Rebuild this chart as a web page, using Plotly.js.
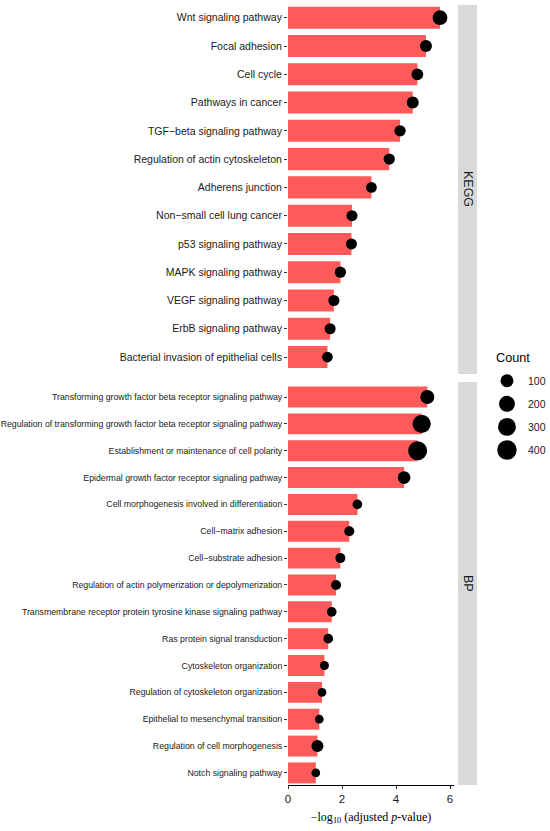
<!DOCTYPE html>
<html><head><meta charset="utf-8">
<script src="https://cdn.plot.ly/plotly-3.0.1.min.js"></script>
<style>html,body{margin:0;padding:0;background:#fff}</style>
</head><body><div id="chart" style="width:550px;height:831px"></div>
<script>
const keggTerms = ["Wnt signaling pathway","Focal adhesion","Cell cycle","Pathways in cancer","TGF\u2212beta signaling pathway","Regulation of actin cytoskeleton","Adherens junction","Non\u2212small cell lung cancer","p53 signaling pathway","MAPK signaling pathway","VEGF signaling pathway","ErbB signaling pathway","Bacterial invasion of epithelial cells"];
const keggLogP = [5.63,5.11,4.79,4.62,4.15,3.75,3.09,2.37,2.35,1.94,1.70,1.56,1.46];
const keggCount = [152,76,70,76,62,62,51,57,57,62,57,57,51];

const bpTerms = ["Transforming growth factor beta receptor signaling pathway","Regulation of transforming growth factor beta receptor signaling pathway","Establishment or maintenance of cell polarity","Epidermal growth factor receptor signaling pathway","Cell morphogenesis involved in differentiation","Cell\u2212matrix adhesion","Cell\u2212substrate adhesion","Regulation of actin polymerization or depolymerization","Transmembrane receptor protein tyrosine kinase signaling pathway","Ras protein signal transduction","Cytoskeleton organization","Regulation of cytoskeleton organization","Epithelial to mesenchymal transition","Regulation of cell morphogenesis","Notch signaling pathway"];
const bpLogP = [5.16,4.95,4.80,4.30,2.57,2.27,1.94,1.78,1.62,1.49,1.35,1.26,1.16,1.09,1.03];
const bpCount = [129,322,366,92,37,41,41,41,37,37,28,25,25,76,25];

const legendBreaks = [100,200,300,400];
const xTicks = [0,2,4,6];

const BAR = "#FF5A5A";
const SANS = "'Liberation Sans',Arial,Helvetica,sans-serif";
function dotSize(c){ return 13*Math.pow(c/100,0.292); }

const traces = [
  {type:"bar", orientation:"h", x:keggLogP, y:keggTerms, xaxis:"x", yaxis:"y",
   marker:{color:BAR,line:{width:0}}, width:0.78, showlegend:false, hoverinfo:"none"},
  {type:"scatter", mode:"markers", x:keggLogP, y:keggTerms, xaxis:"x", yaxis:"y",
   marker:{color:"#000", opacity:1, size:keggCount.map(dotSize), line:{width:0}}, cliponaxis:false, showlegend:false, hoverinfo:"none"},
  {type:"bar", orientation:"h", x:bpLogP, y:bpTerms, xaxis:"x", yaxis:"y2",
   marker:{color:BAR,line:{width:0}}, width:0.78, showlegend:false, hoverinfo:"none"},
  {type:"scatter", mode:"markers", x:bpLogP, y:bpTerms, xaxis:"x", yaxis:"y2",
   marker:{color:"#000", opacity:1, size:bpCount.map(dotSize), line:{width:0}}, cliponaxis:false, showlegend:false, hoverinfo:"none"},
  {type:"scatter", mode:"markers", x:legendBreaks.map(()=>0), y:legendBreaks.map(String), xaxis:"x3", yaxis:"y3",
   marker:{color:"#000", opacity:1, size:legendBreaks.map(dotSize), line:{width:0}}, cliponaxis:false, showlegend:false, hoverinfo:"none"}
];

const yCommon = {type:"category", anchor:"x", showgrid:false, zeroline:false, showline:false,
  ticks:"outside", ticklen:3, tickwidth:1, tickcolor:"#333", fixedrange:true};

const annotations = [
  {xref:"paper", yref:"paper", x:0.6851, y:0.7635, text:"KEGG", textangle:90, showarrow:false,
   font:{family:SANS, size:12.5, color:"#1a1a1a"}, xanchor:"center", yanchor:"middle"},
  {xref:"paper", yref:"paper", x:0.6851, y:0.2584, text:"BP", textangle:90, showarrow:false,
   font:{family:SANS, size:12.5, color:"#1a1a1a"}, xanchor:"center", yanchor:"middle"},
  {xref:"paper", yref:"paper", x:0.788, y:0.5474, text:"Count", showarrow:false,
   font:{family:SANS, size:12.7, color:"#000"}, xanchor:"left", yanchor:"middle"}
].concat(legendBreaks.map((b,i)=>({xref:"x3", yref:"y3", x:0.286, y:i, text:String(b), showarrow:false,
   xanchor:"left", yanchor:"middle", font:{family:SANS, size:10.5, color:"#1a1a1a"}})));

const layout = {
  width:550, height:831, margin:{l:288, r:0, t:5, b:46},
  paper_bgcolor:"#fff", plot_bgcolor:"#fff", showlegend:false, barmode:"overlay",
  xaxis:{domain:[0,0.6336], range:[0,6.148], anchor:"y2", tickvals:xTicks, ticktext:xTicks.map(String),
    ticks:"outside", ticklen:3, tickwidth:1, tickcolor:"#333", showline:true, linecolor:"#000", linewidth:1,
    showgrid:false, zeroline:false, tickfont:{family:SANS, size:11.5, color:"#1a1a1a"},
    title:{text:"\u2212log<sub>10</sub> (adjusted <i>p</i>-value)", standoff:8,
      font:{family:"'Liberation Serif','Times New Roman',serif", size:12, color:"#000"}}, fixedrange:true},
  yaxis:Object.assign({}, yCommon, {domain:[0.5269,1], categoryorder:"array", categoryarray:keggTerms, range:[12.6,-0.45],
    tickfont:{family:SANS, size:10.5, color:"#1a1a1a"}}),
  yaxis2:Object.assign({}, yCommon, {domain:[0,0.5167], categoryorder:"array", categoryarray:bpTerms, range:[14.45,-0.56],
    tickfont:{family:SANS, size:8.75, color:"#1a1a1a"}}),
  xaxis3:{domain:[0.75,1], range:[-0.343,0.657], visible:false, fixedrange:true},
  yaxis3:{domain:[0.4147,0.5331], anchor:"x3", type:"category", categoryorder:"array", categoryarray:legendBreaks.map(String),
    range:[3.5,-0.5], visible:false, fixedrange:true},
  shapes:[
    {type:"rect", xref:"paper", yref:"paper", x0:0.6489, x1:0.7214, y0:0.5269, y1:1, fillcolor:"#d9d9d9", line:{width:0}, layer:"below"},
    {type:"rect", xref:"paper", yref:"paper", x0:0.6489, x1:0.7214, y0:0, y1:0.5167, fillcolor:"#d9d9d9", line:{width:0}, layer:"below"}
  ],
  annotations:annotations
};

Plotly.newPlot("chart", traces, layout, {staticPlot:true, displayModeBar:false});
</script>
</body></html>
